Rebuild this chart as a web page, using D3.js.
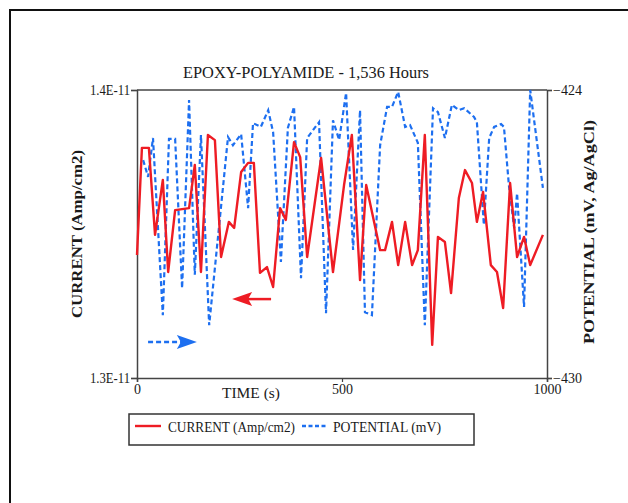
<!DOCTYPE html>
<html>
<head>
<meta charset="utf-8">
<script src="https://cdn.jsdelivr.net/npm/d3@7"></script>
<style>
  body { margin: 0; background: #fff; }
  svg text { font-family: "Liberation Serif", "Times New Roman", serif !important; fill: #1a1a1a; }
</style>
</head>
<body>
<svg id="chart" width="628" height="503"></svg>
<script>
// current, Amp/cm2 (time in s)
const currentTime = [0,12,29,44,63,76,93,127,141,156,173,190,205,224,237,254,271,285,300,317,332,349,363,383,398,415,449,478,505,524,544,559,593,605,622,637,654,671,685,702,720,734,751,766,785,800,817,829,844,863,878,893,910,927,944,959,990];
const currentVal = [1.3427,1.3799,1.3799,1.3497,1.3688,1.3368,1.3583,1.3590,1.3740,1.3368,1.3844,1.3826,1.3420,1.3542,1.3521,1.3715,1.3747,1.3747,1.3365,1.3385,1.3316,1.3590,1.3549,1.3819,1.3767,1.3420,1.3764,1.3368,1.3670,1.3844,1.3340,1.3670,1.3444,1.3444,1.3542,1.3392,1.3542,1.3392,1.3444,1.3844,1.3115,1.3490,1.3472,1.3295,1.3625,1.3722,1.3677,1.3542,1.3646,1.3392,1.3368,1.3243,1.3677,1.3420,1.3490,1.3392,1.3497].map(v => v * 1e-11);

// potential, mV vs Ag/AgCl
const potentialTime = [15,27,39,63,78,93,110,127,141,156,176,222,234,254,271,283,302,320,332,351,368,383,400,415,444,461,478,493,510,527,544,556,573,593,610,622,637,654,666,685,702,722,734,751,768,785,798,822,829,846,859,871,888,895,907,920,927,944,959,990];
const potentialVal = [-425.46,-425.81,-425.00,-428.69,-425.02,-425.02,-428.13,-424.21,-427.85,-424.94,-428.90,-424.98,-425.15,-424.92,-426.46,-424.69,-424.77,-424.42,-424.88,-427.58,-424.79,-424.35,-427.92,-425.00,-424.67,-428.65,-424.63,-425.04,-424.06,-427.33,-424.42,-428.63,-428.69,-425.15,-424.35,-424.35,-424.04,-424.77,-424.73,-425.10,-428.90,-424.38,-424.46,-425.00,-424.31,-424.42,-424.38,-424.56,-424.67,-426.81,-425.00,-424.77,-424.71,-424.77,-425.98,-426.88,-426.15,-428.52,-424.00,-426.04];

const xTicks = [0, 500, 1000];
const leftTicks = [1.3e-11, 1.4e-11];
const rightTicks = [-430, -424];

// arrow annotations: [t0, t1, value]
const currentArrow = [327, 232, 1.3274e-11];
const potentialArrow = [27, 146, -429.25];

const red = "#ee1c24", blue = "#1d6ff0";

let svg = d3.select("#chart");
let margin = {left: 137, right: 81, top: 90, bottom: 125};
let width = 628, height = 503;

// outer frame
svg.append("rect").attr("x", 10).attr("y", 10).attr("width", 700).attr("height", 600)
  .attr("fill", "none").attr("stroke", "#111").attr("stroke-width", 2);

let x = d3.scaleLinear().domain([0, 1000]).range([margin.left, width - margin.right]);
let yL = d3.scaleLinear().domain([1.3e-11, 1.4e-11]).range([height - margin.bottom, margin.top]);
let yR = d3.scaleLinear().domain([-430, -424]).range([height - margin.bottom, margin.top]);

// top frame line
svg.append("line").attr("x1", x(0)).attr("x2", x(1000)).attr("y1", yL(1.4e-11)).attr("y2", yL(1.4e-11))
  .attr("stroke", "#444").attr("stroke-width", 1.5);

let fmtE = d => d.toExponential(1).replace("e", "E");

let axisL = svg.append("g").attr("transform", `translate(${x(0)},0)`)
  .call(d3.axisLeft(yL).tickValues(leftTicks).tickFormat(fmtE).tickSize(6).tickPadding(1));
let axisR = svg.append("g").attr("transform", `translate(${x(1000)},0)`)
  .call(d3.axisRight(yR).tickValues(rightTicks).tickFormat(d3.format("d")).tickSize(5).tickPadding(1));
let axisX = svg.append("g").attr("transform", `translate(0,${yL(1.3e-11)})`)
  .call(d3.axisBottom(x).tickValues(xTicks).tickFormat(d3.format("d")).tickSize(4).tickPadding(2));

[axisL, axisR, axisX].forEach(g => {
  g.select(".domain").attr("stroke", "#444").attr("stroke-width", 1.5);
  g.selectAll(".tick line").attr("stroke", "#444").attr("stroke-width", 1.2);
  g.selectAll(".tick text").attr("font-size", 14).attr("fill", "#1a1a1a");
});
axisL.selectAll(".tick text").attr("textLength", 40).attr("lengthAdjust", "spacingAndGlyphs");

// lines
let currentData = currentTime.map((t, i) => [t, currentVal[i]]);
let potentialData = potentialTime.map((t, i) => [t, potentialVal[i]]);

svg.append("path").datum(potentialData)
  .attr("fill", "none").attr("stroke", blue).attr("stroke-width", 2.2)
  .attr("stroke-dasharray", "5,3")
  .attr("d", d3.line().x(d => x(d[0])).y(d => yR(d[1])));

svg.append("path").datum(currentData)
  .attr("fill", "none").attr("stroke", red).attr("stroke-width", 2.4)
  .attr("stroke-linejoin", "round")
  .attr("d", d3.line().x(d => x(d[0])).y(d => yL(d[1])));

// arrows
let ax0 = x(currentArrow[0]), ax1 = x(currentArrow[1]), ay = yL(currentArrow[2]);
svg.append("line").attr("x1", ax0).attr("x2", ax1 + 14).attr("y1", ay).attr("y2", ay)
  .attr("stroke", red).attr("stroke-width", 2.5);
svg.append("path").attr("d", `M${ax1},${ay}L${ax1 + 20},${ay - 7}L${ax1 + 16},${ay}L${ax1 + 20},${ay + 7}Z`).attr("fill", red);

let bx0 = x(potentialArrow[0]), bx1 = x(potentialArrow[1]), by = yR(potentialArrow[2]);
svg.append("line").attr("x1", bx0).attr("x2", bx1 - 14).attr("y1", by).attr("y2", by)
  .attr("stroke", blue).attr("stroke-width", 2.5).attr("stroke-dasharray", "5,3");
svg.append("path").attr("d", `M${bx1},${by}L${bx1 - 20},${by - 7}L${bx1 - 16},${by}L${bx1 - 20},${by + 7}Z`).attr("fill", blue);

// titles
svg.append("text").attr("x", 306).attr("y", 78).attr("text-anchor", "middle")
  .attr("font-size", 17).attr("textLength", 246).attr("lengthAdjust", "spacingAndGlyphs")
  .text("EPOXY-POLYAMIDE - 1,536 Hours");

svg.append("text").attr("x", 251).attr("y", 398).attr("text-anchor", "middle")
  .attr("font-size", 15).attr("textLength", 58).attr("lengthAdjust", "spacingAndGlyphs")
  .text("TIME (s)");

svg.append("text").attr("transform", "translate(82,234) rotate(-90)").attr("text-anchor", "middle")
  .attr("font-size", 14).attr("font-weight", "bold").attr("textLength", 168).attr("lengthAdjust", "spacingAndGlyphs")
  .text("CURRENT (Amp/cm2)");

svg.append("text").attr("transform", "translate(594,232) rotate(-90)").attr("text-anchor", "middle")
  .attr("font-size", 14).attr("font-weight", "bold").attr("textLength", 224).attr("lengthAdjust", "spacingAndGlyphs")
  .text("POTENTIAL (mV, Ag/AgCl)");

// legend
let lg = svg.append("g").attr("class", "legend");
lg.append("rect").attr("x", 129).attr("y", 414).attr("width", 345).attr("height", 31)
  .attr("fill", "#fff").attr("stroke", "#333").attr("stroke-width", 1.5);
lg.append("line").attr("x1", 135).attr("x2", 161).attr("y1", 426).attr("y2", 426)
  .attr("stroke", red).attr("stroke-width", 2.4);
lg.append("text").attr("x", 168).attr("y", 432).attr("font-size", 15)
  .attr("textLength", 127).attr("lengthAdjust", "spacingAndGlyphs").text("CURRENT (Amp/cm2)");
lg.append("line").attr("x1", 302).attr("x2", 328).attr("y1", 426).attr("y2", 426)
  .attr("stroke", blue).attr("stroke-width", 2.4).attr("stroke-dasharray", "4,2.5");
lg.append("text").attr("x", 333).attr("y", 432).attr("font-size", 15)
  .attr("textLength", 108).attr("lengthAdjust", "spacingAndGlyphs").text("POTENTIAL (mV)");
</script>
</body>
</html>
